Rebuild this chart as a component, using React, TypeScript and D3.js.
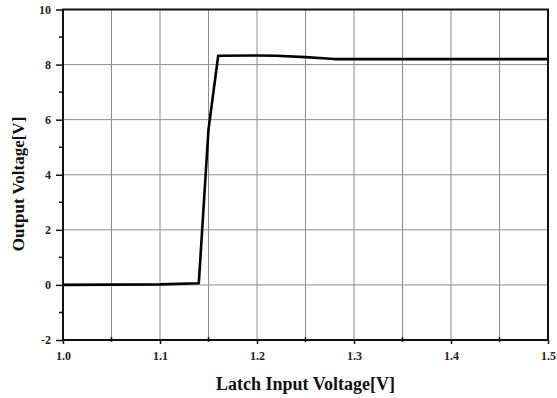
import { useRef, useEffect } from 'react';
import * as d3 from 'd3';

// curve
const inputV = [1.0, 1.1, 1.14, 1.15, 1.16, 1.2, 1.22, 1.25, 1.28, 1.5];
const outputV = [0, 0.02, 0.06, 5.65, 8.32, 8.33, 8.32, 8.27, 8.2, 8.2];

const xTicks = [1.0, 1.1, 1.2, 1.3, 1.4, 1.5];
const xMinor = [1.05, 1.15, 1.25, 1.35, 1.45];
const yTicks = [-2, 0, 2, 4, 6, 8, 10];
const yMinor = [-1, 1, 3, 5, 7, 9];

export default function App() {
  const svgRef = useRef<SVGSVGElement>(null);
  const width = 557;
  const height = 398;

  useEffect(() => {
    if (!svgRef.current) return;
    const svg = d3.select(svgRef.current);
    svg.selectAll('*').remove();

    const margin = { top: 9.5, right: 9, bottom: 58, left: 63 };
    const innerWidth = width - margin.left - margin.right;
    const innerHeight = height - margin.top - margin.bottom;

    const x = d3.scaleLinear().domain([1.0, 1.5]).range([0, innerWidth]);
    const y = d3.scaleLinear().domain([-2, 10]).range([innerHeight, 0]);

    const g = svg.append('g').attr('transform', `translate(${margin.left},${margin.top})`);
    const font = '"Liberation Serif", "Times New Roman", serif';

    // Gridlines
    g.append('g')
      .selectAll('line')
      .data([...xTicks, ...xMinor])
      .join('line')
      .attr('x1', (d) => x(d))
      .attr('x2', (d) => x(d))
      .attr('y1', 0)
      .attr('y2', innerHeight)
      .attr('stroke', '#8c8c8c')
      .attr('stroke-width', 1);
    g.append('g')
      .selectAll('line')
      .data(yTicks)
      .join('line')
      .attr('x1', 0)
      .attr('x2', innerWidth)
      .attr('y1', (d) => y(d))
      .attr('y2', (d) => y(d))
      .attr('stroke', '#8c8c8c')
      .attr('stroke-width', 1);

    // Curve
    const line = d3.line<number>()
      .x((_, i) => x(inputV[i]))
      .y((d) => y(d));
    g.append('path')
      .datum(outputV)
      .attr('d', line)
      .attr('fill', 'none')
      .attr('stroke', '#000')
      .attr('stroke-width', 2.6)
      .attr('stroke-linejoin', 'round');

    // Frame
    g.append('rect')
      .attr('width', innerWidth)
      .attr('height', innerHeight)
      .attr('fill', 'none')
      .attr('stroke', '#111')
      .attr('stroke-width', 2);

    // X axis
    g.append('g')
      .attr('transform', `translate(0,${innerHeight})`)
      .call(d3.axisBottom(x).tickValues(xTicks).tickSize(4).tickPadding(7).tickFormat((d) => (d as number).toFixed(1)))
      .attr('font-family', font)
      .call((el) => el.select('.domain').remove())
      .call((el) => el.selectAll('.tick line').attr('stroke', '#111').attr('stroke-width', 1.5))
      .call((el) => el.selectAll('.tick text').attr('fill', '#222').attr('font-size', '12px')
        .attr('font-weight', 'bold').attr('font-family', font));
    g.append('g')
      .attr('transform', `translate(0,${innerHeight})`)
      .selectAll('line')
      .data(xMinor)
      .join('line')
      .attr('x1', (d) => x(d))
      .attr('x2', (d) => x(d))
      .attr('y1', -3)
      .attr('y2', 2)
      .attr('stroke', '#111')
      .attr('stroke-width', 1.5);

    // Y axis
    g.append('g')
      .call(d3.axisLeft(y).tickValues(yTicks).tickSize(7).tickPadding(5).tickFormat((d) => String(d)))
      .attr('font-family', font)
      .call((el) => el.select('.domain').remove())
      .call((el) => el.selectAll('.tick line').attr('stroke', '#111').attr('stroke-width', 1.5))
      .call((el) => el.selectAll('.tick text').attr('fill', '#222').attr('font-size', '12px')
        .attr('font-weight', 'bold').attr('font-family', font));
    g.append('g')
      .selectAll('line')
      .data(yMinor)
      .join('line')
      .attr('x1', -4)
      .attr('x2', 0)
      .attr('y1', (d) => y(d))
      .attr('y2', (d) => y(d))
      .attr('stroke', '#111')
      .attr('stroke-width', 1.5);

    // Axis titles
    svg.append('text')
      .attr('x', margin.left + innerWidth / 2)
      .attr('y', 390)
      .attr('text-anchor', 'middle')
      .attr('font-family', font)
      .attr('font-weight', 'bold')
      .attr('font-size', '18px')
      .attr('fill', '#111')
      .text('Latch Input Voltage[V]');
    svg.append('text')
      .attr('transform', `translate(24,184) rotate(-90)`)
      .attr('text-anchor', 'middle')
      .attr('font-family', font)
      .attr('font-weight', 'bold')
      .attr('font-size', '17px')
      .attr('fill', '#111')
      .text('Output Voltage[V]');
  }, []);

  return (
    <svg
      ref={svgRef}
      width={width}
      height={height}
      viewBox={`0 0 ${width} ${height}`}
      style={{ position: 'fixed', left: 0, top: 0, background: '#fff' }}
    />
  );
}
